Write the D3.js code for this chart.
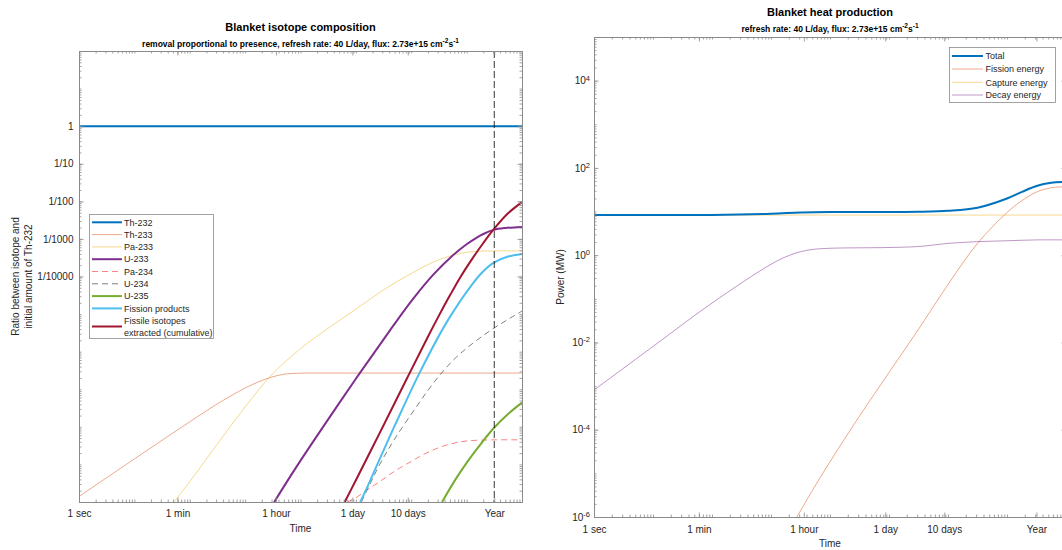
<!DOCTYPE html>
<html>
<head>
<meta charset="utf-8">
<script src="https://cdn.jsdelivr.net/npm/d3@7"></script>
<style>
  body { margin: 0; background: #fff; }
  svg { display: block; font-family: "Liberation Sans", Arial, Helvetica, sans-serif; }
</style>
</head>
<body>
<svg id="chart" width="1062" height="550"></svg>
<script>
// ---------------- data ----------------
// time axis (seconds)
const timeTickValues = [1, 60, 3600, 86400, 864000, 31557600];
const timeTickLabels = ["1 sec", "1 min", "1 hour", "1 day", "10 days", "Year"];
const yearSeconds = 31557600;

// isotope ratio axis
const ratioTickValues = [1e-4, 1e-3, 1e-2, 1e-1, 1];
const ratioTickLabels = ["1/10000", "1/1000", "1/100", "1/10", "1"];

// power axis (exponents of ten)
const powerTickExponents = [-6, -4, -2, 0, 2, 4];

// isotope amounts relative to initial Th-232
const th232Time  = [1, 1e4, 1e6, 1e8];
const th232Ratio = [1, 1, 1, 1];

const th233Time  = [1, 10, 100, 300, 1000, 2000, 3000, 5000, 1e4, 3e4, 1e5, 1e6, 1e7, 1e8];
const th233Ratio = [1.4e-10, 1.4e-9, 1.36e-8, 3.9e-8, 1.08e-7, 1.7e-7, 2.1e-7, 2.5e-7, 2.68e-7, 2.7e-7, 2.7e-7, 2.7e-7, 2.7e-7, 2.7e-7];

const pa233Time  = [52, 100, 316, 1000, 3160, 1e4, 3.16e4, 1e5, 3.16e5, 1e6, 3.16e6, 1e7, 3.16e7, 1e8];
const pa233Ratio = [1.0e-10, 3.5e-10, 3.5e-9, 3.4e-8, 2.6e-7, 1.2e-6, 4.2e-6, 1.35e-5, 4.4e-5, 1.2e-4, 2.8e-4, 4.4e-4, 4.8e-4, 4.8e-4];

const u233Time  = [3000, 5000, 1e4, 3.16e4, 1e5, 2.7e5, 5e5, 1.07e6, 2.5e6, 5.6e6, 1e7, 1.5e7, 2e7, 3.1e7, 5e7, 1e8];
const u233Ratio = [7.6e-11, 2.57e-10, 1.26e-9, 1.58e-8, 1.9e-7, 1.51e-6, 5.5e-6, 2.5e-5, 1.12e-4, 3.63e-4, 7.2e-4, 1.07e-3, 1.35e-3, 1.74e-3, 1.95e-3, 2.09e-3];

const pa234Time  = [7e4, 1e5, 1.6e5, 2.7e5, 5e5, 1e6, 2e6, 4.4e6, 1e7, 3.16e7, 1e8];
const pa234Ratio = [1.0e-10, 1.3e-10, 2.1e-10, 3.5e-10, 6.6e-10, 1.2e-9, 2.1e-9, 3.3e-9, 4.2e-9, 4.5e-9, 4.5e-9];

const u234Time  = [1.26e5, 2.7e5, 5e5, 1.07e6, 2e6, 3.55e6, 6.3e6, 1.26e7, 3.1e7, 1e8];
const u234Ratio = [1.0e-10, 1.0e-9, 4.7e-9, 2.5e-8, 9.3e-8, 2.75e-7, 6.8e-7, 1.62e-6, 4.2e-6, 1.2e-5];

const u235Time  = [3.6e6, 6.3e6, 1e7, 1.6e7, 3.1e7, 5.6e7, 1e8];
const u235Ratio = [1.0e-10, 4.0e-10, 1.1e-9, 2.8e-9, 9.3e-9, 2.2e-8, 4.4e-8];

const fissionProductTime  = [1.2e5, 1.6e5, 2.7e5, 6.2e5, 1.45e6, 4.4e6, 1.3e7, 2e7, 3.1e7, 5.6e7, 1e8];
const fissionProductRatio = [1.0e-10, 2.45e-10, 1.41e-9, 2.1e-8, 2.95e-7, 6.2e-6, 6.6e-5, 1.38e-4, 2.34e-4, 3.4e-4, 4.0e-4];

const fissileExtractedTime  = [6.3e4, 1e5, 2.7e5, 8.3e5, 2e6, 3.16e6, 5e6, 7.9e6, 1.26e7, 2e7, 3.1e7, 5.6e7, 1e8];
const fissileExtractedRatio = [1.0e-10, 3.8e-10, 6.9e-9, 1.9e-7, 2.5e-6, 9.1e-6, 3.16e-5, 1.02e-4, 2.95e-4, 7.8e-4, 1.82e-3, 4.8e-3, 9.5e-3];

// heat production (MW)
const totalTime  = [1, 100, 1000, 3160, 1e4, 1e5, 3.16e5, 1e6, 3.16e6, 1e7, 1.8e7, 3.16e7, 5.6e7, 1e8];
const totalPower = [8.3, 8.38, 8.92, 9.5, 9.75, 9.8, 9.9, 10.4, 12.2, 19.9, 28.3, 38.5, 45.5, 47.5];

const fissionTime  = [2750, 5000, 1e4, 3.16e4, 1e5, 3.16e5, 1e6, 3.16e6, 1e7, 1.8e7, 3.16e7, 5.6e7, 1e8];
const fissionPower = [1e-6, 4.0e-6, 1.85e-5, 2.05e-4, 2.05e-3, 2.0e-2, 0.214, 1.86, 9.5, 17.8, 28, 35, 37];

const captureTime  = [1, 1e8];
const capturePower = [8.3, 8.3];

const decayTime  = [1, 10, 100, 1000, 2000, 3160, 5000, 1e4, 1e5, 3.16e5, 6.3e5, 1e6, 3.16e6, 1e7, 3.16e7, 1e8];
const decayPower = [8.1e-4, 8.1e-3, 8.0e-2, 0.62, 0.98, 1.2, 1.35, 1.44, 1.5, 1.58, 1.74, 1.86, 2.04, 2.14, 2.24, 2.24];

// ---------------- series styling ----------------
const isotopeSeries = [
  { name: ["Th-232"], t: th232Time, v: th232Ratio, color: "#0072BD", width: 2 },
  { name: ["Th-233"], t: th233Time, v: th233Ratio, color: "#D95319", width: 0.5 },
  { name: ["Pa-233"], t: pa233Time, v: pa233Ratio, color: "#EDB120", width: 0.5 },
  { name: ["U-233"], t: u233Time, v: u233Ratio, color: "#7E2F8E", width: 2 },
  { name: ["Pa-234"], t: pa234Time, v: pa234Ratio, color: "#FF0000", width: 0.5, dash: "6,4" },
  { name: ["U-234"], t: u234Time, v: u234Ratio, color: "#000000", width: 0.5, dash: "6,4" },
  { name: ["U-235"], t: u235Time, v: u235Ratio, color: "#77AC30", width: 2 },
  { name: ["Fission products"], t: fissionProductTime, v: fissionProductRatio, color: "#4DBEEE", width: 2 },
  { name: ["Fissile isotopes", "extracted (cumulative)"], t: fissileExtractedTime, v: fissileExtractedRatio, color: "#A2142F", width: 2 }
];

const heatSeries = [
  { name: "Total", t: totalTime, v: totalPower, color: "#0072BD", width: 2, order: 3 },
  { name: "Fission energy", t: fissionTime, v: fissionPower, color: "#D95319", width: 0.5, order: 0 },
  { name: "Capture energy", t: captureTime, v: capturePower, color: "#EDB120", width: 0.5, order: 1 },
  { name: "Decay energy", t: decayTime, v: decayPower, color: "#7E2F8E", width: 0.5, order: 2 }
];

// ---------------- drawing ----------------
const svg = d3.select("#chart");
const defs = svg.append("defs");
const AXIS = "#8a8a8a";
const TEXT = "#262626";
const FONT = "'Liberation Sans', Arial, Helvetica, sans-serif";

function logMinor(lo, hi) {
  const out = [];
  for (let e = lo; e < hi; e++) for (let k = 1; k < 10; k++) out.push(k * Math.pow(10, e));
  out.push(Math.pow(10, hi));
  return out;
}

function styleAxis(g) {
  g.attr("color", AXIS).attr("font-family", FONT).attr("font-size", 10);
  g.selectAll("text").attr("fill", TEXT);
  g.select(".domain").attr("stroke-width", 1);
  g.selectAll(".tick line").attr("stroke-width", 0.8);
}

function frame(box, x, y, yMajor, yMinor, yFormat, xPad, yPad) {
  const g = svg.append("g");
  // bottom
  g.append("g").attr("transform", `translate(0,${box.bottom})`)
    .call(d3.axisBottom(x).tickValues(logMinor(0, 8)).tickSizeInner(-2.5).tickSizeOuter(0).tickFormat(""))
    .call(styleAxis);
  g.append("g").attr("transform", `translate(0,${box.bottom})`)
    .call(d3.axisBottom(x).tickValues(timeTickValues).tickSizeInner(-4.5).tickSizeOuter(0)
      .tickPadding(xPad).tickFormat((d, i) => timeTickLabels[i]))
    .call(styleAxis);
  // top
  g.append("g").attr("transform", `translate(0,${box.top})`)
    .call(d3.axisTop(x).tickValues(logMinor(0, 8)).tickSizeInner(-2.5).tickSizeOuter(0).tickFormat(""))
    .call(styleAxis);
  g.append("g").attr("transform", `translate(0,${box.top})`)
    .call(d3.axisTop(x).tickValues(timeTickValues).tickSizeInner(-4.5).tickSizeOuter(0).tickFormat(""))
    .call(styleAxis);
  // left
  g.append("g").attr("transform", `translate(${box.left},0)`)
    .call(d3.axisLeft(y).tickValues(yMinor).tickSizeInner(-2.5).tickSizeOuter(0).tickFormat(""))
    .call(styleAxis);
  const yAx = g.append("g").attr("transform", `translate(${box.left},0)`)
    .call(d3.axisLeft(y).tickValues(yMajor).tickSizeInner(-4.5).tickSizeOuter(0).tickPadding(yPad).tickFormat(yFormat))
    .call(styleAxis);
  // right
  g.append("g").attr("transform", `translate(${box.right},0)`)
    .call(d3.axisRight(y).tickValues(yMinor).tickSizeInner(-2.5).tickSizeOuter(0).tickFormat(""))
    .call(styleAxis);
  g.append("g").attr("transform", `translate(${box.right},0)`)
    .call(d3.axisRight(y).tickValues(yMajor).tickSizeInner(-4.5).tickSizeOuter(0).tickFormat(""))
    .call(styleAxis);
  // drop empty labels left by unlabeled tick sets
  g.selectAll(".tick text").filter(function () { return this.textContent === ""; }).remove();
  return yAx;
}

function drawLines(id, box, x, y, series) {
  defs.append("clipPath").attr("id", id).append("rect")
    .attr("x", box.left).attr("y", box.top)
    .attr("width", box.right - box.left).attr("height", box.bottom - box.top);
  const line = d3.line().x(d => x(d[0])).y(d => y(d[1])).curve(d3.curveCatmullRom.alpha(0.5));
  const g = svg.append("g").attr("clip-path", `url(#${id})`);
  series.forEach(s => {
    g.append("path")
      .attr("d", line(s.t.map((t, i) => [t, s.v[i]])))
      .attr("fill", "none")
      .attr("stroke", s.color)
      .attr("stroke-width", s.width)
      .attr("stroke-dasharray", s.dash || null)
      .attr("stroke-linejoin", "round");
  });
  return g;
}

// text with raised exponents; the run after an exponent drops back to the baseline
function supText(sel, parts, supSize) {
  let raised = false;
  parts.forEach(p => {
    const ts = sel.append("tspan").text(p.t);
    if (p.sup) {
      ts.attr("dy", raised ? 0 : -4).attr("font-size", supSize);
      raised = true;
    } else if (raised) {
      ts.attr("dy", 4);
      raised = false;
    }
  });
}

// ---------- left panel: isotope composition ----------
const boxL = { left: 79, top: 51, right: 522, bottom: 502 };
const xL = d3.scaleLog().domain([1, 1e8]).range([boxL.left, boxL.right]);
const yL = d3.scaleLog().domain([1e-10, 1e2]).range([boxL.bottom, boxL.top]);

const linesL = drawLines("clipL", boxL, xL, yL, isotopeSeries);
// one-year marker
linesL.append("line")
  .attr("x1", xL(yearSeconds)).attr("x2", xL(yearSeconds))
  .attr("y1", boxL.top).attr("y2", boxL.bottom)
  .attr("stroke", "#000").attr("stroke-width", 0.8).attr("stroke-dasharray", "7,3");

frame(boxL, xL, yL, ratioTickValues, logMinor(-10, 2),
  d => ratioTickLabels[ratioTickValues.indexOf(d)], 7.5, 5.5);

svg.append("text").attr("x", (boxL.left + boxL.right) / 2).attr("y", 31)
  .attr("text-anchor", "middle").attr("font-size", 11).attr("font-weight", "bold")
  .attr("fill", "#000").text("Blanket isotope composition");
supText(svg.append("text").attr("x", (boxL.left + boxL.right) / 2).attr("y", 46.5)
  .attr("text-anchor", "middle").attr("font-size", 8.5).attr("font-weight", "bold").attr("fill", "#000"),
  [{ t: "removal proportional to presence, refresh rate: 40 L/day, flux: 2.73e+15 cm" },
   { t: "-2", sup: true }, { t: "s" }, { t: "-1", sup: true }], 6.5);

svg.append("text").attr("x", (boxL.left + boxL.right) / 2).attr("y", 531.5)
  .attr("text-anchor", "middle").attr("font-size", 10).attr("fill", TEXT).text("Time");

[["Ratio between isotope and", 19], ["initial amount of Th-232", 31.5]].forEach(([t, bx]) => {
  svg.append("text")
    .attr("transform", `translate(${bx},${(boxL.top + boxL.bottom) / 2}) rotate(-90)`)
    .attr("text-anchor", "middle").attr("font-size", 10).attr("fill", TEXT).text(t);
});

// legend
const legL = svg.append("g");
const legRowY = [222.3, 234.6, 246.9, 259.2, 271.5, 283.8, 296.1, 308.4, 326.5];
legL.append("rect").attr("x", 89.5).attr("y", 214.5).attr("width", 124).attr("height", 124)
  .attr("fill", "#fff").attr("stroke", "#8c8c8c").attr("stroke-width", 0.8);
isotopeSeries.forEach((s, i) => {
  const cy = legRowY[i];
  legL.append("line").attr("x1", 92).attr("x2", 122).attr("y1", cy).attr("y2", cy)
    .attr("stroke", s.color).attr("stroke-width", s.width).attr("stroke-dasharray", s.dash || null);
  const tx = legL.append("text").attr("x", 124).attr("font-size", 9).attr("fill", TEXT);
  if (s.name.length === 1) {
    tx.attr("y", cy + 3.2).text(s.name[0]);
  } else {
    tx.append("tspan").attr("x", 124).attr("y", cy - 6 + 3.2).text(s.name[0]);
    tx.append("tspan").attr("x", 124).attr("y", cy + 6 + 3.2).text(s.name[1]);
  }
});

// ---------- right panel: heat production ----------
const boxR = { left: 594, top: 37, right: 1066, bottom: 517 };
const xR = d3.scaleLog().domain([1, 1e8]).range([boxR.left, boxR.right]);
const yR = d3.scaleLog().domain([1e-6, 1e5]).range([boxR.bottom, boxR.top]);

drawLines("clipR", boxR, xR, yR, heatSeries.slice().sort((a, b) => a.order - b.order));

const yAxR = frame(boxR, xR, yR, powerTickExponents.map(e => Math.pow(10, e)), logMinor(-6, 5),
  d => "10^" + Math.round(Math.log10(d)), 8.5, 4);
yAxR.selectAll(".tick text").each(function (d) {
  const t = d3.select(this);
  const e = Math.round(Math.log10(d));
  t.text("");
  t.append("tspan").text("10");
  t.append("tspan").attr("dy", "-0.5em").attr("font-size", 7.5).text(String(e));
});

svg.append("text").attr("x", (boxR.left + boxR.right) / 2).attr("y", 16)
  .attr("text-anchor", "middle").attr("font-size", 11).attr("font-weight", "bold")
  .attr("fill", "#000").text("Blanket heat production");
supText(svg.append("text").attr("x", (boxR.left + boxR.right) / 2).attr("y", 31.5)
  .attr("text-anchor", "middle").attr("font-size", 8.5).attr("font-weight", "bold").attr("fill", "#000"),
  [{ t: "refresh rate: 40 L/day, flux: 2.73e+15 cm" },
   { t: "-2", sup: true }, { t: "s" }, { t: "-1", sup: true }], 6.5);

svg.append("text").attr("x", (boxR.left + boxR.right) / 2).attr("y", 547)
  .attr("text-anchor", "middle").attr("font-size", 10).attr("fill", TEXT).text("Time");

svg.append("text")
  .attr("transform", `translate(563.5,${(boxR.top + boxR.bottom) / 2}) rotate(-90)`)
  .attr("text-anchor", "middle").attr("font-size", 10).attr("fill", TEXT).text("Power (MW)");

// legend
const legR = svg.append("g");
legR.append("rect").attr("x", 949.5).attr("y", 47.5).attr("width", 106).attr("height", 55)
  .attr("fill", "#fff").attr("stroke", "#8c8c8c").attr("stroke-width", 0.8);
const legRowYR = [56, 69, 82.3, 95];
heatSeries.forEach((s, i) => {
  const cy = legRowYR[i];
  legR.append("line").attr("x1", 952).attr("x2", 983).attr("y1", cy).attr("y2", cy)
    .attr("stroke", s.color).attr("stroke-width", s.width);
  legR.append("text").attr("x", 985.5).attr("y", cy + 3.2).attr("font-size", 9).attr("fill", TEXT).text(s.name);
});
</script>
</body>
</html>
